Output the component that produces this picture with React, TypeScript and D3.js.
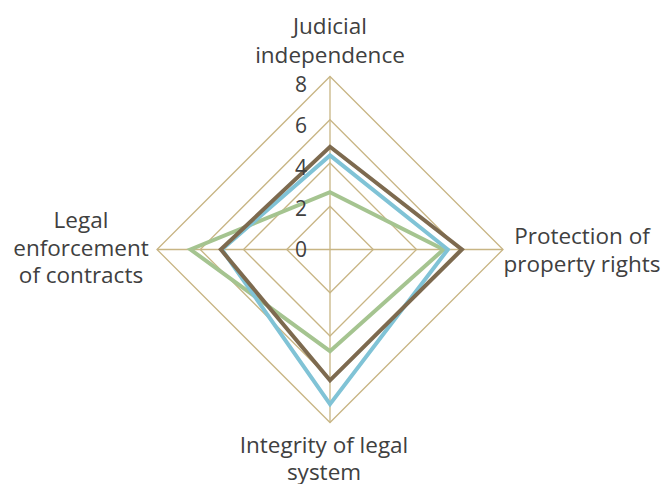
import React, { useRef, useEffect } from 'react';
import * as d3 from 'd3';

// axis names, clockwise from the top
const axes = [
  ['Judicial', 'independence'],
  ['Protection of', 'property rights'],
  ['Integrity of legal', 'system'],
  ['Legal', 'enforcement', 'of contracts'],
];
const ticks = [0, 2, 4, 6, 8];
const seriesNames = ['Series C', 'Series B', 'Series A'];
const seriesColors = ['#a5c490', '#80c3d6', '#7d6a4f'];
const greenVals = [2.65, 5.25, 4.7, 6.45];
const blueVals = [4.35, 5.45, 7.15, 5.0];
const brownVals = [4.75, 6.1, 6.05, 5.05];

export default function App() {
  const ref = useRef<SVGSVGElement>(null);

  useEffect(() => {
    const svg = d3.select(ref.current);
    svg.selectAll('*').remove();
    const cx = 330, cy = 249.5;
    const r = d3.scaleLinear().domain([0, 8]).range([0, 173]);
    // tick labels sit a little tighter than the rings
    const rl = d3.scaleLinear().domain([0, 8]).range([0, 165]);
    const angle = (i: number) => (i * Math.PI * 2) / axes.length;
    const pt = (i: number, v: number): [number, number] => [
      cx + Math.sin(angle(i)) * r(v),
      cy - Math.cos(angle(i)) * r(v),
    ];
    const line = d3.line<[number, number]>();
    const font = "'Open Sans', 'Noto Sans', sans-serif";

    const g = svg.append('g');
    const gridColor = '#c8b584';

    // rings
    ticks.filter((t) => t > 0).forEach((t) => {
      g.append('path')
        .attr('d', line(axes.map((_, i) => pt(i, t)))! + 'Z')
        .attr('fill', 'none')
        .attr('stroke', gridColor)
        .attr('stroke-width', 1.3);
    });
    // spokes
    axes.forEach((_, i) => {
      const [x, y] = pt(i, 8);
      g.append('line')
        .attr('x1', cx).attr('y1', cy)
        .attr('x2', x).attr('y2', y)
        .attr('stroke', gridColor)
        .attr('stroke-width', 1.3);
    });

    // series
    const data = [greenVals, blueVals, brownVals];
    data.forEach((vals, s) => {
      g.append('path')
        .datum(vals)
        .attr('class', seriesNames[s])
        .attr('d', line(vals.map((v, i) => pt(i, v)))! + 'Z')
        .attr('fill', 'none')
        .attr('stroke', seriesColors[s])
        .attr('stroke-width', 4)
        .attr('stroke-linejoin', 'miter');
    });

    // tick labels
    ticks.forEach((t) => {
      g.append('text')
        .attr('x', cx - 29)
        .attr('y', cy - rl(t))
        .attr('dy', '0.36em')
        .attr('text-anchor', 'middle')
        .attr('font-family', font)
        .attr('font-size', 21)
        .attr('fill', '#404040')
        .text(t);
    });

    // axis labels
    const labelPos = [
      { x: cx, y: 34, lh: 29 },
      { x: 582, y: 244, lh: 28 },
      { x: 324, y: 453, lh: 27 },
      { x: 81, y: 228, lh: 27.5 },
    ];
    axes.forEach((lines, i) => {
      const p = labelPos[i];
      const t = g.append('text')
        .attr('x', p.x)
        .attr('y', p.y)
        .attr('text-anchor', 'middle')
        .attr('font-family', font)
        .attr('font-size', 22.5)
        .attr('fill', '#404040');
      lines.forEach((l, k) => {
        t.append('tspan')
          .attr('x', p.x)
          .attr('dy', k === 0 ? 0 : p.lh)
          .text(l);
      });
    });
  }, []);

  return (
    <div style={{ position: 'absolute', top: 0, left: 0 }}>
      <svg ref={ref} width={663} height={484} style={{ display: 'block' }} />
    </div>
  );
}
